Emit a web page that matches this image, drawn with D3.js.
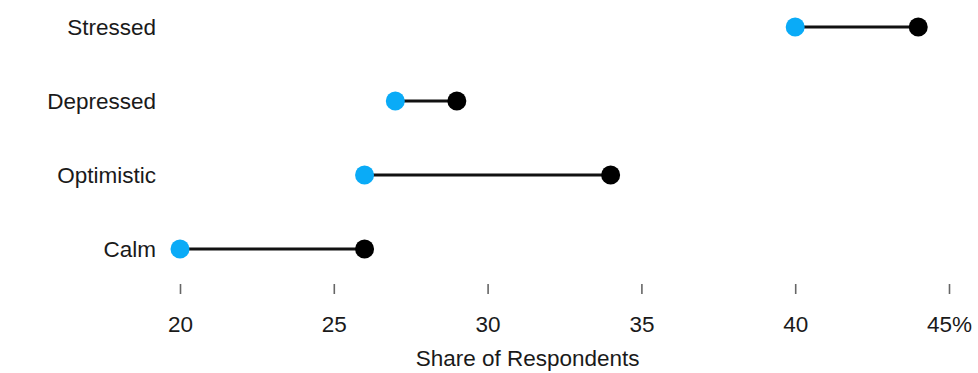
<!DOCTYPE html>
<html>
<head>
<meta charset="utf-8">
<script src="https://cdn.jsdelivr.net/npm/d3@7"></script>
<style>
  html, body { margin: 0; padding: 0; background: #fff; }
  svg { display: block; }
  text { font-family: "Liberation Sans", Arial, Helvetica, sans-serif; fill: #1a1a1a; }
</style>
</head>
<body>
<svg id="chart" width="978" height="373"></svg>
<script>
const categories = ["Stressed", "Depressed", "Optimistic", "Calm"];
const startValues = [40, 27, 26, 20];   // blue
const endValues = [44, 29, 34, 26];     // black
const tickValues = [20, 25, 30, 35, 40, 45];
const tickLabels = ["20", "25", "30", "35", "40", "45%"];
const axisTitle = "Share of Respondents";

const svg = d3.select("#chart");
const x = d3.scaleLinear().domain([20, 45]).range([180, 949]);
const y = d3.scalePoint().domain(categories).range([27, 249]);

const fs = 22.5;

// axis
const axis = d3.axisBottom(x).tickValues(tickValues)
  .tickFormat((d, i) => tickLabels[i]).tickSize(10).tickPadding(22);
const g = svg.append("g").attr("transform", "translate(0,284)").call(axis);
g.select(".domain").remove();
g.selectAll(".tick line").attr("stroke", "#666").attr("stroke-width", 1.6);
g.selectAll(".tick text").attr("font-size", fs).attr("fill", "#1a1a1a")
  .attr("font-family", '"Liberation Sans", Arial, sans-serif');

svg.append("text").attr("x", x(31.3)).attr("y", 366).attr("text-anchor", "middle")
  .attr("font-size", fs).text(axisTitle);

// labels
svg.selectAll("text.cat").data(categories).join("text").attr("class", "cat")
  .attr("x", 156).attr("y", d => y(d) + 7.5).attr("text-anchor", "end")
  .attr("font-size", fs).text(d => d);

const rows = categories.map((c, i) => ({ c, s: startValues[i], e: endValues[i] }));

svg.selectAll("line.conn").data(rows).join("line").attr("class", "conn")
  .attr("x1", d => x(d.s)).attr("x2", d => x(d.e))
  .attr("y1", d => y(d.c)).attr("y2", d => y(d.c))
  .attr("stroke", "#111").attr("stroke-width", 3);

svg.selectAll("circle.s").data(rows).join("circle").attr("class", "s")
  .attr("cx", d => x(d.s)).attr("cy", d => y(d.c)).attr("r", 9.5).attr("fill", "#0aabf7");

svg.selectAll("circle.e").data(rows).join("circle").attr("class", "e")
  .attr("cx", d => x(d.e)).attr("cy", d => y(d.c)).attr("r", 9.5).attr("fill", "#000");
</script>
</body>
</html>
